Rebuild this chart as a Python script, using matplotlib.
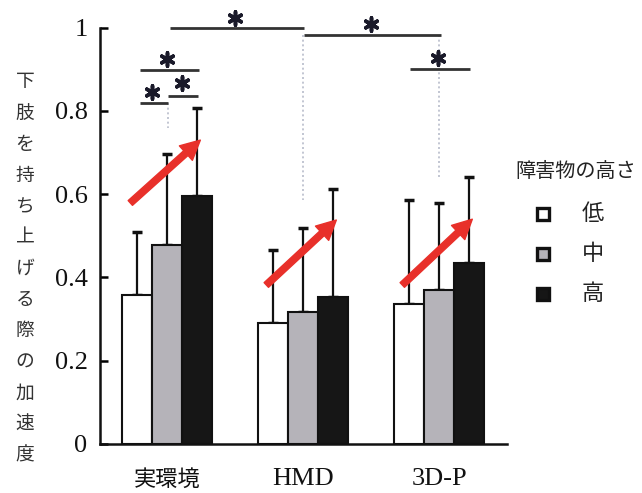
import matplotlib
matplotlib.use('Agg')
import matplotlib.pyplot as plt
import numpy as np
from matplotlib.lines import Line2D

# ---------------- data ----------------
categories = ['実環境', 'HMD', '3D-P']
levels = ['低', '中', '高']
legend_title = '障害物の高さ'
ylabel_text = '下肢を持ち上げる際の加速度'

low_mean = [0.358, 0.290, 0.336]
mid_mean = [0.479, 0.318, 0.370]
high_mean = [0.595, 0.354, 0.435]
low_sd = [0.152, 0.176, 0.250]
mid_sd = [0.217, 0.202, 0.209]
high_sd = [0.211, 0.258, 0.207]

yticks = [0, 0.2, 0.4, 0.6, 0.8, 1]
ytick_labels = ['0', '0.2', '0.4', '0.6', '0.8', '1']

# red trend arrows (start / end values per group)
arrow_start_y = [0.579, 0.382, 0.382]
arrow_end_y = [0.730, 0.538, 0.540]

# significance brackets: (x_start, x_end, y)
brackets = [(0.02, 1.01, 1.000), (1.01, 2.015, 0.982),
            (-0.20, 0.235, 0.898), (-0.20, 0.01, 0.819), (0.01, 0.23, 0.836),
            (1.79, 2.23, 0.900)]
stars_x = [0.50, 1.50, 0.0, -0.11, 0.11, 1.99]
stars_y = [1.024, 1.008, 0.925, 0.846, 0.868, 0.928]
# dotted guide lines: (x, y_top, y_bottom)
guides = [(1.0, 0.982, 0.586), (2.0, 0.982, 0.642), (0.01, 0.819, 0.76)]

# ---------------- figure ----------------
W, H = 642, 493
fig = plt.figure(figsize=(W / 100, H / 100), dpi=100)
ax = fig.add_axes([100 / W, (H - 444) / H, 407 / W, 416.3 / H])

x = np.arange(len(categories))
bw = 0.22
colors = ['white', '#b5b3b9', '#161616']
means = [low_mean, mid_mean, high_mean]
sds = [low_sd, mid_sd, high_sd]
for i in range(3):
    xi = x + (i - 1) * bw
    ax.bar(xi, means[i], width=bw, color=colors[i], edgecolor='#111111',
           linewidth=1.5, zorder=3)
    ax.errorbar(xi, means[i], yerr=[np.zeros(3), sds[i]], fmt='none',
                ecolor='#111111', elinewidth=1.6, capsize=3.5, capthick=2.5,
                zorder=2)

# red arrows
for g in range(3):
    ax.annotate('', xy=(g + 0.245, arrow_end_y[g]), xytext=(g - 0.27, arrow_start_y[g]),
                arrowprops=dict(arrowstyle='simple,head_length=1.0,head_width=1.0,tail_width=0.33',
                                color='#e8302a', mutation_scale=14, shrinkA=0, shrinkB=0),
                zorder=5)

# brackets
for x0, x1, yb in brackets:
    ax.plot([x0, x1], [yb, yb], color='#333333', lw=2.0, clip_on=False, zorder=4,
            solid_capstyle='butt')
ax.scatter(stars_x, stars_y, marker=(6, 2, 0), s=90, color='#1a1a2a',
           linewidths=2.6, clip_on=False, zorder=5)
for gx, yt, yb in guides:
    ax.plot([gx, gx], [yt, yb], color='#b8bccb', lw=1.2, ls=(0, (1.2, 1.6)),
            clip_on=False, zorder=1)

ax.set_xlim(-0.493, 2.5)
ax.set_ylim(0, 1)
for s in ['top', 'right']:
    ax.spines[s].set_visible(False)
for s in ['left', 'bottom']:
    ax.spines[s].set_linewidth(1.8)
    ax.spines[s].set_color('#111111')

ax.set_yticks(yticks)
ax.set_yticklabels(ytick_labels, fontfamily='Liberation Serif', fontsize=19,
                   color='#111111')
ax.tick_params(axis='y', direction='in', length=6, width=1.8, pad=9)
ax.set_xticks(x)
ax.set_xticklabels(categories)
ax.tick_params(axis='x', length=0, pad=17)
for lab in ax.get_xticklabels():
    if lab.get_text() == '実環境':
        lab.set_fontfamily(['Noto Sans CJK JP', 'DejaVu Sans'])
        lab.set_fontsize(16)
    else:
        lab.set_fontfamily('Liberation Serif')
        lab.set_fontsize(19)
    lab.set_color('#111111')

# vertical y label, one character per line
for k, ch in enumerate(ylabel_text):
    ypix = 82 + k * 31.1
    fig.text(25 / W, 1 - ypix / H, ch, ha='center', va='center', fontsize=13.5,
             family=['Noto Sans CJK JP', 'DejaVu Sans'], color='#333333')

# legend drawn manually
fig.text(576 / W, 1 - 172 / H, legend_title, ha='center', va='center', fontsize=14.5,
         family=['Noto Sans CJK JP', 'DejaVu Sans'], color='#222222')
rows = [214, 254, 294]
for k in range(3):
    fig.add_artist(Line2D([543 / W], [1 - rows[k] / H], marker='s', markersize=8.5,
                          markerfacecolor=colors[k], markeredgecolor='#111111',
                          markeredgewidth=2.4, transform=fig.transFigure))
    fig.text(593 / W, 1 - rows[k] / H, levels[k], ha='center', va='center', fontsize=16,
             family=['Noto Sans CJK JP', 'DejaVu Sans'], color='#222222')

fig.savefig('out.png', dpi=100)
